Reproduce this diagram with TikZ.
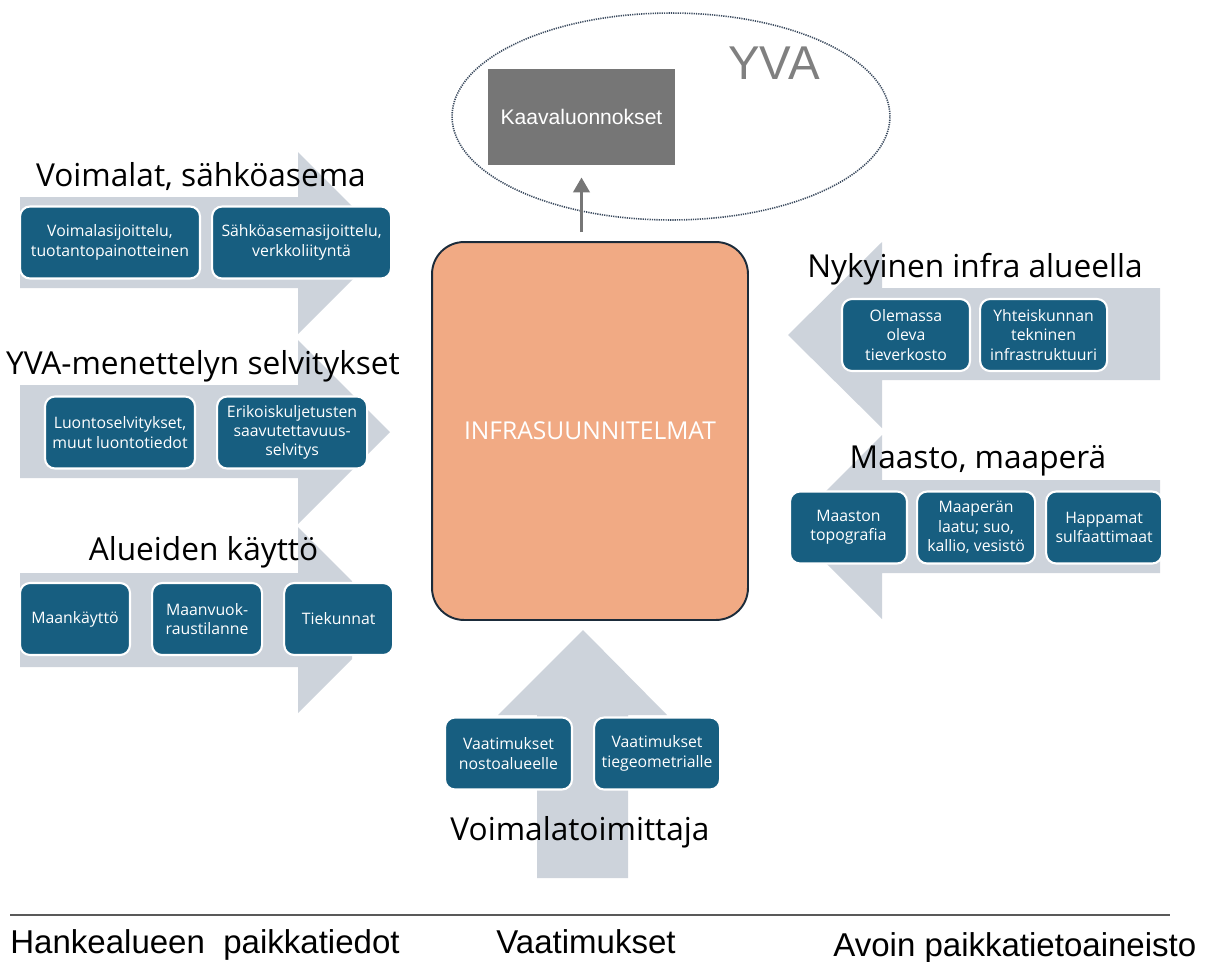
\documentclass[tikz,border=0pt]{standalone}
\usepackage{fontspec}
\setmainfont{Open Sans}
\newfontfamily\arialfont{Liberation Sans}
\usepackage{tikz}
\usetikzlibrary{arrows.meta}
\usetikzlibrary{positioning}
\usetikzlibrary{shapes.geometric}
\definecolor{arrowgrey}{HTML}{CDD3DB}
\definecolor{boxblue}{HTML}{175E80}
\definecolor{infraorange}{HTML}{F1AA84}
\definecolor{infraline}{HTML}{1B2B3A}
\definecolor{kaavagrey}{HTML}{767676}
\definecolor{yvagrey}{HTML}{808080}
\definecolor{dotline}{HTML}{3A4A5E}
\tikzset{
  base/.style={align=center, inner sep=2pt},
  % blue boxes lying on the grey arrows
  item/.style={base, rectangle, draw=white, line width=1.2pt, fill=boxblue, rounded corners=0.2cm, text=white, minimum height=1.44cm, font={\fontsize{9}{11}\selectfont}},
  title/.style={base, anchor=base, inner sep=0pt, font={\fontsize{18}{21}\selectfont}},
  foot/.style={base, anchor=base, inner sep=0pt, font={\arialfont\fontsize{18.8}{21}\selectfont}},
  % -------------------------------------------------
  % centre part
  bigarrow/.style={fill=arrowgrey},
  infra/.style={base, rectangle, draw=infraline, line width=1.1pt, fill=infraorange, rounded corners=0.64cm, minimum width=6.32cm, minimum height=7.56cm, text=white, font={\fontsize{14}{17}\selectfont}},
  kaava/.style={base, rectangle, fill=kaavagrey, minimum width=3.74cm, minimum height=1.92cm, text=white, font={\arialfont\fontsize{12}{14}\selectfont}},
  yva/.style={ellipse, draw=dotline, dash pattern=on 0.7pt off 0.6pt, line width=0.9pt, minimum width=8.76cm, minimum height=4.14cm},
  yvatext/.style={base, text=yvagrey, font={\arialfont\fontsize{27}{30}\selectfont}},
  up/.style={-{Triangle[width=0.32cm, length=0.3cm]}, draw=kaavagrey, line width=2.2pt},
  rule/.style={draw=black!65, line width=0.8pt}
}

\begin{document}
\begin{tikzpicture}[x=0.02cm, y=-0.02cm]
\useasboundingbox (0,0) rectangle (1211,961);

% -------------------------------------------------
% grey block arrows
\fill[bigarrow] (20,197) -- (298,197) -- (298,152) -- (353,207) -- (353,279) -- (298,334) -- (298,288) -- (20,288) -- cycle;
\fill[bigarrow] (20,385) -- (298,385) -- (298,340) -- (390,432) -- (298,524) -- (298,478) -- (20,478) -- cycle;
\fill[bigarrow] (20,573) -- (298,573) -- (298,527) -- (352,581) -- (352,659) -- (298,713) -- (298,667) -- (20,667) -- cycle;
\fill[bigarrow] (1160,288) -- (882,288) -- (882,242) -- (788,335) -- (882,428) -- (882,380) -- (1160,380) -- cycle;
\fill[bigarrow] (1160,480) -- (882,480) -- (882,435) -- (790,527) -- (882,619) -- (882,573) -- (1160,573) -- cycle;
\fill[bigarrow] (537,878) -- (537,715) -- (498,715) -- (583,630) -- (667,715) -- (628,715) -- (628,878) -- cycle;

% -------------------------------------------------
% left side
\node[title] (t_voimalat) at (201,186) {Voimalat, sähköasema};
\node[item, minimum width=3.6cm] (voimala) at (110,242.5) {Voimalasijoittelu,\\tuotantopainotteinen};
\node[item, minimum width=3.58cm, right=0.2cm of voimala] (sahko) {Sähköasemasijoittelu,\\verkkoliityntä};

\node[title] (t_yva) at (203,374) {YVA-menettelyn selvitykset};
\node[item, minimum width=3cm] (luonto) at (120,432.5) {Luontoselvitykset,\\muut luontotiedot};
\node[item, minimum width=3cm, right=0.4cm of luonto] (erikois) {Erikoiskuljetusten\\saavutettavuus-\\selvitys};

\node[title] (t_alue) at (203.5,560) {Alueiden käyttö};
\node[item, minimum width=2.2cm] (maankaytto) at (75,619) {Maankäyttö};
\node[item, minimum width=2.2cm, right=0.4cm of maankaytto] (maanvuokra) {Maanvuok-\\raustilanne};
\node[item, minimum width=2.18cm, right=0.4cm of maanvuokra] (tiekunnat) {Tiekunnat};

% -------------------------------------------------
% right side
\node[title] (t_nyky) at (975,277) {Nykyinen infra alueella};
\node[item, minimum width=2.56cm] (olemassa) at (906,335) {Olemassa\\oleva\\tieverkosto};
\node[item, minimum width=2.54cm, right=0.16cm of olemassa] (yhteis) {Yhteiskunnan\\tekninen\\infrastruktuuri};

\node[title] (t_maasto) at (978,468) {Maasto, maaperä};
\node[item, minimum width=2.34cm] (maaston) at (848.5,527.5) {Maaston\\topografia};
\node[item, minimum width=2.36cm, right=0.16cm of maaston] (maapera) {Maaperän\\laatu; suo,\\kallio, vesistö};
\node[item, minimum width=2.32cm, right=0.18cm of maapera] (happamat) {Happamat\\sulfaattimaat};

% -------------------------------------------------
% bottom
\node[item, minimum width=2.54cm] (nosto) at (508.5,753.5) {Vaatimukset\\nostoalueelle};
\node[item, minimum width=2.52cm, right=0.4cm of nosto] (tiegeo) {Vaatimukset\\tiegeometrialle};
\node[title] (t_toimittaja) at (580,840) {Voimalatoimittaja};

% -------------------------------------------------
% centre and top
\node[infra] (infra) at (590,431) {INFRASUUNNITELMAT};
\node[yva] (yva) at (671,116.5) {};
\node[yvatext] (yvalabel) at (774,63.5) {YVA};
\node[kaava] (kaava) at (581.5,117) {Kaavaluonnokset};
\draw[up, shorten <=0.18cm, shorten >=0.24cm] (kaava.south |- infra.north) -- (kaava.south);

% -------------------------------------------------
% footer
\coordinate (rule_l) at (10,915);
\coordinate (rule_r) at (1170,915);
\draw[rule] (rule_l) -- (rule_r);
\node[foot, anchor=base west] (f_hanke) at (10,953) {Hankealueen\ \ paikkatiedot};
\node[foot] (f_vaat) at (586,953) {Vaatimukset};
\node[foot, anchor=base west] (f_avoin) at (833,956) {Avoin paikkatietoaineisto};

\end{tikzpicture}
\end{document}
